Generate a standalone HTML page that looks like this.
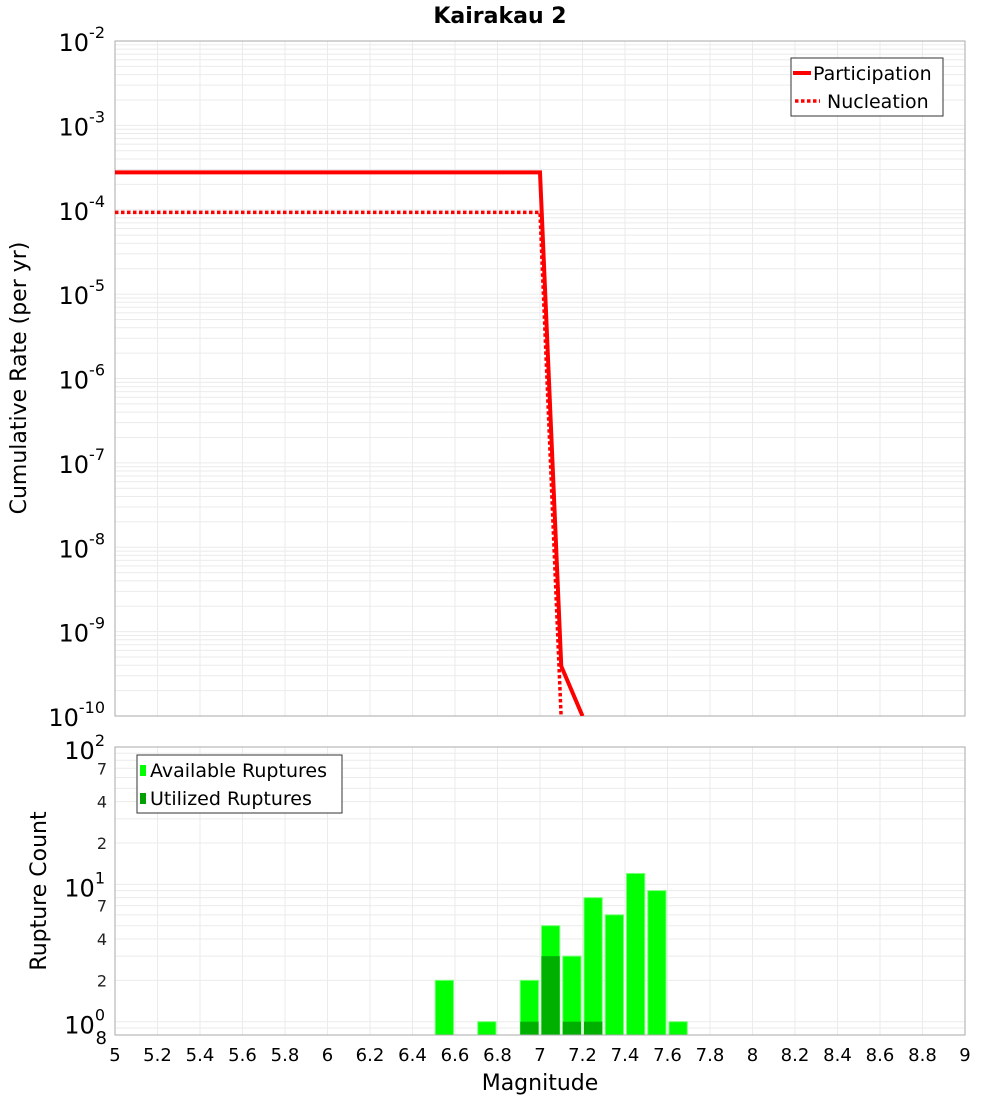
<!DOCTYPE html>
<html><head><meta charset="utf-8"><style>
body{margin:0;background:#fff}
text{font-family:"DejaVu Sans","Liberation Sans",sans-serif}
</style></head><body>
<svg id="c" width="1000" height="1100" xmlns="http://www.w3.org/2000/svg">
<rect width="1000" height="1100" fill="#fff"/>
<text x="500" y="23" text-anchor="middle" font-size="22" font-weight="bold">Kairakau 2</text>
<g id="topg"></g>
<g id="botg"></g>
<text transform="translate(26,378) rotate(-90)" text-anchor="middle" font-size="22">Cumulative Rate (per yr)</text>
<text transform="translate(46,891) rotate(-90)" text-anchor="middle" font-size="22">Rupture Count</text>
<text x="540" y="1090" text-anchor="middle" font-size="22">Magnitude</text>
</svg>
<script>
const magsLine=[5.0,7.0,7.1,7.2];
const participation=[2.77e-4,2.77e-4,3.9e-10,1e-10];
const magsNuc=[5.0,7.0,7.1];
const nucleation=[9.3e-5,9.3e-5,9e-11];
const binMags=[6.5,6.7,6.9,7.0,7.1,7.2,7.3,7.4,7.5,7.6];
const available=[2,1,2,5,3,8,6,12,9,1];
const utilized=[0,0,1,3,1,1,0,0,0,0];
const xTicks=[5,5.2,5.4,5.6,5.8,6,6.2,6.4,6.6,6.8,7,7.2,7.4,7.6,7.8,8,8.2,8.4,8.6,8.8,9];
const topDecades=[-2,-3,-4,-5,-6,-7,-8,-9,-10];
const botMinorLabels=[2,4,7,20,40,70];

const NS="http://www.w3.org/2000/svg";
const L=115,R=965;
const x=m=>L+(m-5)/4*(R-L);
const T0=41,T1=716;
const yT=v=>T0+(-2-Math.log10(v))/8*(T1-T0);
const B0=747,B1=1035,bMin=0.8,bMax=100;
const yB=v=>B1-(Math.log10(v)-Math.log10(bMin))/(Math.log10(bMax)-Math.log10(bMin))*(B1-B0);
function el(p,t,a){const e=document.createElementNS(NS,t);for(const k in a)e.setAttribute(k,a[k]);p.appendChild(e);return e;}
const svg=document.getElementById('c');
const gTop=document.getElementById('topg'),gBot=document.getElementById('botg');
const defs=el(svg,'defs',{});
const cp=el(defs,'clipPath',{id:'cpT'});el(cp,'rect',{x:L,y:T0,width:R-L,height:T1-T0});

for(let d=-10;d<-2;d++){for(let k=1;k<10;k++){const v=k*Math.pow(10,d);const g=el(gTop,'line',{x1:L,x2:R,y1:yT(v),y2:yT(v),stroke:'#ebebeb','stroke-width':1});

}}
for(const t of xTicks){const g=el(gTop,'line',{x1:x(t),x2:x(t),y1:T0,y2:T1,stroke:'#ebebeb'});


const g2=el(gBot,'line',{x1:x(t),x2:x(t),y1:B0,y2:B1,stroke:'#ebebeb'});

}
const f1=el(gTop,'rect',{x:L,y:T0,width:R-L,height:T1-T0,fill:'none',stroke:'#aaa'});


for(const d of topDecades){const t=el(gTop,'text',{x:L-10,y:yT(Math.pow(10,d))+10,'text-anchor':'end','font-size':24});


const a=el(t,'tspan',{});a.textContent='10';
const b=el(t,'tspan',{dy:-13,'font-size':16});b.textContent=String(d);}
function path(ms,vs){return ms.map((m,i)=>(i?'L':'M')+x(m)+','+yT(vs[i])).join(' ');}
const pl=el(gTop,'path',{d:path(magsLine,participation),fill:'none',stroke:'#f00','stroke-width':4,'clip-path':'url(#cpT)'});


const nl=el(gTop,'path',{d:path(magsNuc,nucleation),fill:'none',stroke:'#f00','stroke-width':3.5,'stroke-dasharray':'3.5,2.5','clip-path':'url(#cpT)'});


const lg=el(gTop,'g',{});


el(lg,'rect',{x:791,y:58,width:152,height:58,fill:'#fff',stroke:'#333'});
el(lg,'line',{x1:793,x2:811,y1:73,y2:73,stroke:'#f00','stroke-width':4});
el(lg,'line',{x1:795,x2:820,y1:101,y2:101,stroke:'#f00','stroke-width':3.5,'stroke-dasharray':'3.5,2.5'});
const lt1=el(lg,'text',{x:813,y:80,'font-size':19});lt1.textContent='Participation';


const lt2=el(lg,'text',{x:827,y:108,'font-size':19});lt2.textContent='Nucleation';



for(const v of [0.8,0.9,1,2,3,4,5,6,7,8,9,10,20,30,40,50,60,70,80,90]){const g=el(gBot,'line',{x1:L,x2:R,y1:yB(v),y2:yB(v),stroke:'#ebebeb'});

}
for(let i=0;i<binMags.length;i++){
 const b=el(gBot,'rect',{x:x(binMags[i])+1.5,y:yB(available[i]),width:x(binMags[i]+0.1)-x(binMags[i])-3,height:B1-yB(available[i]),fill:'#00ff00',stroke:'#7f7','stroke-width':1});
 
 
 if(utilized[i]>0){const u=el(gBot,'rect',{x:x(binMags[i])+1.5,y:yB(utilized[i]),width:x(binMags[i]+0.1)-x(binMags[i])-3,height:B1-yB(utilized[i]),fill:'#00b000'});
 
 }
}
const f2=el(gBot,'rect',{x:L,y:B0,width:R-L,height:B1-B0,fill:'none',stroke:'#aaa'});


for(const v of botMinorLabels){const t=el(gBot,'text',{x:107,y:yB(v)+6,'text-anchor':'end','font-size':16,fill:'#222'});t.textContent=v%10===0?v/10:v;

}
for(const d of [0,1,2]){const t=el(gBot,'text',{x:L-10,y:yB(Math.pow(10,d))+12,'text-anchor':'end','font-size':24});


const a=el(t,'tspan',{});a.textContent='10';
const b=el(t,'tspan',{dy:-13,'font-size':16});b.textContent=String(d);}
const t8=el(gBot,'text',{x:107,y:1044,'text-anchor':'end','font-size':18});t8.textContent='8';


for(const t of xTicks){const tx=el(gBot,'text',{x:x(t),y:1061,'text-anchor':'middle','font-size':18});tx.textContent=String(t);

}
const lb=el(gBot,'g',{});


el(lb,'rect',{x:137,y:755,width:205,height:58,fill:'#fff',stroke:'#333'});
el(lb,'rect',{x:140,y:765,width:6,height:11,fill:'#00ff00'});
el(lb,'rect',{x:140,y:793,width:6,height:11,fill:'#00a000'});
const b1=el(lb,'text',{x:150,y:777,'font-size':19});b1.textContent='Available Ruptures';


const b2=el(lb,'text',{x:150,y:805,'font-size':19});b2.textContent='Utilized Ruptures';


</script>
</body></html>
